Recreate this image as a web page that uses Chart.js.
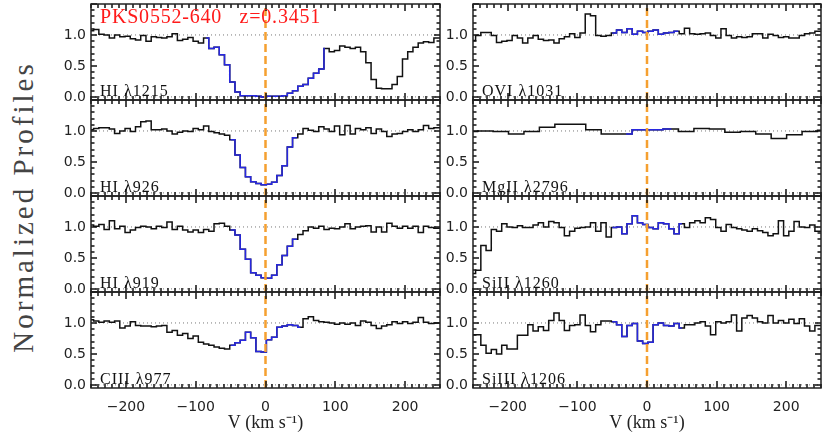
<!DOCTYPE html>
<html>
<head>
<meta charset="utf-8">
<script src="https://cdn.jsdelivr.net/npm/chart.js@4.4.1/dist/chart.umd.min.js"></script>
<style>
  html, body { margin: 0; padding: 0; background: #fff; }
  #wrap { position: relative; width: 830px; height: 434px; overflow: hidden; }
  #wrap canvas { position: absolute; }
  #ylab {
    position: absolute; left: 23px; top: 207px;
    transform: translate(-50%, -50%) rotate(-90deg);
    font: 29px "Liberation Serif"; line-height: 32px; letter-spacing: 3px;
    color: #444; white-space: nowrap;
  }
</style>
</head>
<body>
<div id="wrap"><div id="ylab">Normalized Profiles</div></div>
<script>
// velocity bin centres (km/s), 7.5 km/s bins
const vGrid = [-250, -242.5, -235, -227.5, -220, -212.5, -205, -197.5, -190, -182.5,
  -175, -167.5, -160, -152.5, -145, -137.5, -130, -122.5, -115, -107.5,
  -100, -92.5, -85, -77.5, -70, -62.5, -55, -47.5, -40, -32.5,
  -25, -17.5, -10, -2.5, 5, 12.5, 20, 27.5, 35, 42.5,
  50, 57.5, 65, 72.5, 80, 87.5, 95, 102.5, 110, 117.5,
  125, 132.5, 140, 147.5, 155, 162.5, 170, 177.5, 185, 192.5,
  200, 207.5, 215, 222.5, 230, 237.5, 245, 252.5];
// MgII has coarser bins (~22 km/s)
const vMg = [-254.5, -232.3, -210.1, -187.9, -165.7, -143.5, -121.3, -99.1, -76.9, -54.7,
  -32.5, -10.3, 11.9, 34.1, 56.3, 78.5, 100.7, 122.9, 145.1, 167.3,
  189.5, 211.7, 233.9, 256.1];

const fluxHI1215 = [1.07, 1.09, 1.01, 1.00, 0.95, 1.00, 0.97, 0.98, 0.94, 0.92,
  0.99, 0.90, 0.97, 0.96, 0.95, 0.97, 1.02, 0.91, 0.93, 0.96,
  0.90, 0.87, 0.95, 0.78, 0.80, 0.68, 0.52, 0.24, 0.08, 0.02,
  0.02, 0.02, 0.01, 0.00, 0.01, 0.01, 0.01, 0.02, 0.06, 0.10,
  0.17, 0.20, 0.30, 0.38, 0.45, 0.78, 0.73, 0.75, 0.82, 0.80,
  0.78, 0.80, 0.73, 0.55, 0.28, 0.14, 0.13, 0.13, 0.20, 0.33,
  0.61, 0.73, 0.80, 0.87, 0.89, 0.88, 0.95, 0.95];
const fluxHI926 = [1.02, 1.04, 1.05, 1.05, 1.03, 0.96, 1.00, 1.04, 0.99, 1.07,
  1.15, 1.16, 1.02, 1.02, 1.03, 1.00, 0.95, 0.98, 1.00, 0.99,
  1.04, 1.02, 1.08, 0.99, 0.97, 0.95, 0.93, 0.86, 0.61, 0.41,
  0.26, 0.18, 0.15, 0.13, 0.14, 0.17, 0.28, 0.44, 0.74, 0.89,
  0.95, 1.04, 1.01, 0.99, 1.07, 1.03, 0.99, 1.08, 0.94, 1.09,
  0.95, 1.04, 1.02, 1.05, 0.96, 1.03, 0.99, 0.91, 0.95, 0.96,
  0.99, 1.02, 0.99, 1.02, 1.09, 1.04, 1.05, 1.05];
const fluxHI919 = [1.03, 1.01, 1.04, 0.96, 1.10, 0.97, 1.01, 0.91, 0.95, 0.99,
  1.01, 1.00, 0.97, 1.01, 0.99, 1.08, 0.96, 1.01, 0.95, 0.92,
  0.95, 0.91, 0.96, 0.93, 1.05, 1.06, 1.01, 0.95, 0.87, 0.64,
  0.48, 0.26, 0.22, 0.18, 0.17, 0.22, 0.39, 0.54, 0.69, 0.80,
  0.88, 0.94, 1.00, 0.98, 1.01, 0.96, 0.98, 0.97, 1.00, 1.05,
  0.97, 1.00, 1.01, 1.02, 0.92, 1.00, 0.92, 1.06, 1.01, 0.98,
  1.01, 0.98, 1.01, 0.91, 1.01, 0.99, 0.98, 0.98];
const fluxCIII977 = [1.05, 1.03, 1.01, 1.03, 1.01, 1.03, 0.92, 0.95, 1.02, 0.96,
  0.95, 0.95, 0.94, 0.95, 0.96, 0.85, 0.88, 0.80, 0.83, 0.75,
  0.79, 0.69, 0.66, 0.64, 0.61, 0.59, 0.58, 0.64, 0.68, 0.72,
  0.85, 0.76, 0.54, 0.53, 0.73, 0.77, 0.93, 0.95, 0.97, 0.96,
  0.93, 1.07, 1.10, 1.04, 1.02, 1.01, 1.00, 0.98, 1.00, 0.98,
  1.00, 0.96, 1.03, 1.01, 0.96, 0.91, 0.95, 0.97, 1.02, 0.99,
  1.02, 0.99, 1.01, 1.09, 1.01, 0.99, 1.00, 1.00];
const fluxOVI1031 = [0.91, 0.99, 1.04, 1.04, 0.99, 0.88, 0.90, 0.91, 0.99, 0.95,
  0.87, 0.95, 0.99, 0.93, 0.91, 0.92, 0.87, 0.94, 0.97, 1.02,
  0.96, 1.03, 1.34, 1.31, 0.99, 0.98, 0.99, 1.03, 1.08, 1.04,
  1.10, 1.01, 1.06, 1.04, 1.06, 1.08, 1.01, 1.03, 1.04, 1.06,
  1.02, 1.11, 1.02, 1.01, 1.02, 1.03, 0.99, 0.95, 1.10, 0.99,
  0.95, 0.97, 0.96, 0.97, 1.02, 1.02, 0.95, 1.01, 0.99, 0.96,
  0.97, 0.95, 0.95, 0.99, 1.02, 1.03, 1.06, 1.06];
const fluxMgII2796 = [0.99, 1.00, 0.99, 0.95, 0.99, 1.06, 1.11, 1.11, 1.02, 0.95,
  0.95, 1.02, 1.02, 1.03, 0.99, 1.04, 1.03, 0.98, 0.99, 0.95,
  0.88, 0.94, 0.99, 1.01];
const fluxSiII1260 = [0.25, 0.30, 0.70, 0.62, 0.96, 0.93, 1.05, 1.00, 0.99, 1.02,
  0.99, 0.99, 1.03, 1.07, 1.00, 1.09, 1.07, 0.99, 0.86, 0.93,
  0.98, 0.99, 1.00, 1.07, 0.93, 1.07, 0.84, 0.99, 1.00, 0.89,
  1.05, 1.18, 1.07, 1.04, 0.99, 0.97, 1.07, 1.05, 0.97, 0.89,
  1.05, 0.99, 1.07, 1.10, 1.07, 1.15, 1.12, 0.99, 0.93, 1.04,
  0.99, 0.97, 0.95, 0.93, 0.97, 0.94, 0.91, 0.86, 0.89, 1.10,
  0.86, 0.93, 1.09, 1.00, 0.99, 1.03, 0.93, 0.93];
const fluxSiIII1206 = [0.81, 0.81, 0.64, 0.51, 0.57, 0.50, 0.64, 0.58, 0.58, 0.80,
  0.80, 0.97, 0.87, 0.94, 0.88, 1.04, 1.16, 1.04, 0.88, 0.96,
  0.97, 1.13, 0.96, 0.86, 0.97, 1.03, 1.03, 1.02, 0.97, 0.78,
  0.96, 0.99, 0.71, 0.67, 0.69, 0.97, 1.00, 0.96, 0.95, 0.99,
  0.92, 0.97, 0.97, 1.00, 1.02, 0.95, 0.81, 1.02, 1.00, 1.02,
  1.13, 0.87, 1.08, 1.12, 1.08, 1.02, 1.00, 1.12, 1.00, 1.04,
  1.00, 1.06, 0.99, 1.07, 0.95, 0.87, 0.96, 0.96];

// velocity windows drawn in blue
const blueHI1215 = [-85, 85];
const blueHI926 = [-50, 45];
const blueHI919 = [-50, 45];
const blueCIII977 = [-50, 50];
const blueOVI1031 = [-50, 45];
const blueMgII2796 = [-30, 35];
const blueSiII1260 = [-50, 50];
const blueSiIII1206 = [-50, 50];

const xTicks = [-200, -100, 0, 100, 200];
const yTicks = [0, 0.5, 1.0];

const panels = [
  { label: 'HI λ1215', v: vGrid, dv: 7.5, flux: fluxHI1215, blue: blueHI1215, col: 0, row: 0, title: 'PKS0552-640   z=0.3451' },
  { label: 'HI λ926', v: vGrid, dv: 7.5, flux: fluxHI926, blue: blueHI926, col: 0, row: 1 },
  { label: 'HI λ919', v: vGrid, dv: 7.5, flux: fluxHI919, blue: blueHI919, col: 0, row: 2 },
  { label: 'CIII λ977', v: vGrid, dv: 7.5, flux: fluxCIII977, blue: blueCIII977, col: 0, row: 3 },
  { label: 'OVI λ1031', v: vGrid, dv: 7.5, flux: fluxOVI1031, blue: blueOVI1031, col: 1, row: 0 },
  { label: 'MgII λ2796', v: vMg, dv: 22.2, flux: fluxMgII2796, blue: blueMgII2796, col: 1, row: 1 },
  { label: 'SiII λ1260', v: vGrid, dv: 7.5, flux: fluxSiII1260, blue: blueSiII1260, col: 1, row: 2 },
  { label: 'SiIII λ1206', v: vGrid, dv: 7.5, flux: fluxSiIII1206, blue: blueSiIII1206, col: 1, row: 3 }
];

// page layout (pixels)
const colLeft = [91, 473], colWidth = [349, 348];
const rowTop = [4, 100, 196, 292], rowH = 96;
const yAxisW = 40, pad = 8, xAxisH = 46;

// histogram outline, optionally clipped to a window
function steps(v, f, dv, lo, hi) {
  const pts = [];
  for (let i = 0; i < v.length; i++) {
    const a = v[i] - dv / 2, b = v[i] + dv / 2;
    if (b <= lo || a >= hi) continue;
    pts.push({ x: Math.max(a, lo), y: f[i] }, { x: Math.min(b, hi), y: f[i] });
  }
  return pts;
}

// box, inward ticks and the line label, IDL style
const frameTicks = {
  id: 'frameTicks',
  afterDraw(chart, args, opts) {
    const ctx = chart.ctx;
    const a = chart.chartArea;
    const sx = chart.scales.x, sy = chart.scales.y;
    const L = Math.round(a.left), R = Math.round(a.right);
    const T = Math.round(a.top), B = Math.round(a.bottom);
    ctx.save();
    ctx.strokeStyle = '#111';
    ctx.lineWidth = 1.5;
    ctx.beginPath();
    for (let v = -250; v <= 250; v += 10) {
      const px = Math.round(sx.getPixelForValue(v));
      const len = v % 100 === 0 ? 7 : 4;
      ctx.moveTo(px, T); ctx.lineTo(px, T + len);
      ctx.moveTo(px, B); ctx.lineTo(px, B - len);
    }
    for (let k = 0; k <= 15; k++) {
      const py = Math.round(sy.getPixelForValue(k / 10));
      const len = k % 5 === 0 ? 6 : 3.5;
      ctx.moveTo(L, py); ctx.lineTo(L + len, py);
      ctx.moveTo(R, py); ctx.lineTo(R - len, py);
    }
    ctx.stroke();
    ctx.strokeStyle = '#222';
    ctx.lineWidth = 1.5;
    ctx.strokeRect(L, T, R - L, B - T);

    ctx.fillStyle = '#111';
    ctx.font = '16px "Liberation Serif"';
    ctx.letterSpacing = '1px';
    ctx.textBaseline = 'alphabetic';
    ctx.textAlign = 'left';
    ctx.fillText(opts.label, a.left + 9, a.bottom - 4);
    if (opts.title) {
      ctx.fillStyle = '#ff1a1a';
      ctx.font = '20px "Liberation Serif"';
      ctx.letterSpacing = '0.8px';
      ctx.fillText(opts.title, a.left + 9, a.top + 19);
    }
    ctx.restore();
  }
};

const wrap = document.getElementById('wrap');

panels.forEach(p => {
  const bottomRow = p.row === 3;
  const cv = document.createElement('canvas');
  const w = yAxisW + colWidth[p.col] + 3;
  const h = pad + rowH + (bottomRow ? xAxisH : pad);
  cv.width = w; cv.height = h;
  cv.style.left = (colLeft[p.col] - yAxisW) + 'px';
  cv.style.top = (rowTop[p.row] - pad) + 'px';
  wrap.appendChild(cv);

  new Chart(cv, {
    type: 'line',
    data: {
      datasets: [
        { data: [{ x: 0, y: -0.05 }, { x: 0, y: 1.5 }], borderColor: '#f5a030', borderWidth: 2.5, borderDash: [8, 4], order: 0 },
        { data: steps(p.v, p.flux, p.dv, p.blue[0], p.blue[1]), borderColor: '#2828e0', borderWidth: 1.5, order: 1 },
        { data: steps(p.v, p.flux, p.dv, -Infinity, Infinity), borderColor: '#111', borderWidth: 1.5, order: 2 },
        { data: [{ x: -250, y: 1 }, { x: 250, y: 1 }], borderColor: '#777', borderWidth: 1, borderDash: [1, 3], order: 3 },
        { data: [{ x: -250, y: 0 }, { x: 250, y: 0 }], borderColor: '#777', borderWidth: 1, borderDash: [1, 3], order: 3 }
      ]
    },
    options: {
      animation: false,
      responsive: false,
      devicePixelRatio: 1,
      elements: { point: { radius: 0 }, line: { tension: 0, fill: false } },
      layout: { padding: { top: pad, bottom: bottomRow ? 0 : pad, left: 0, right: 3 } },
      plugins: {
        legend: { display: false },
        tooltip: { enabled: false },
        frameTicks: { label: p.label, title: p.title }
      },
      scales: {
        x: {
          type: 'linear', min: -250, max: 250, display: bottomRow,
          grid: { display: false, drawTicks: false }, border: { display: false },
          afterBuildTicks: s => { s.ticks = xTicks.map(v => ({ value: v })); },
          ticks: {
            font: { family: 'DejaVu Sans', size: 14 }, color: '#222', padding: 11,
            maxRotation: 0, autoSkip: false,
            callback: v => (v < 0 ? '\u2212' + Math.abs(v) : String(v))
          },
          title: {
            display: true, text: 'V (km s\u207B\u00B9)', color: '#222',
            font: { family: 'Liberation Serif', size: 18 }, padding: { top: 0, bottom: 0 }
          },
          afterFit: s => {
            if (s.options.display) s.height = xAxisH;
            s.paddingLeft = 0; s.paddingRight = 0;
          }
        },
        y: {
          type: 'linear', min: -0.05, max: 1.5,
          grid: { display: false, drawTicks: false }, border: { display: false },
          afterBuildTicks: s => { s.ticks = yTicks.map(v => ({ value: v })); },
          ticks: {
            font: { family: 'DejaVu Sans', size: 14 }, color: '#222', padding: 5,
            callback: v => v.toFixed(1)
          },
          afterFit: s => { s.width = yAxisW; s.paddingTop = 0; s.paddingBottom = 0; }
        }
      }
    },
    plugins: [frameTicks]
  });
});
</script>
</body>
</html>
